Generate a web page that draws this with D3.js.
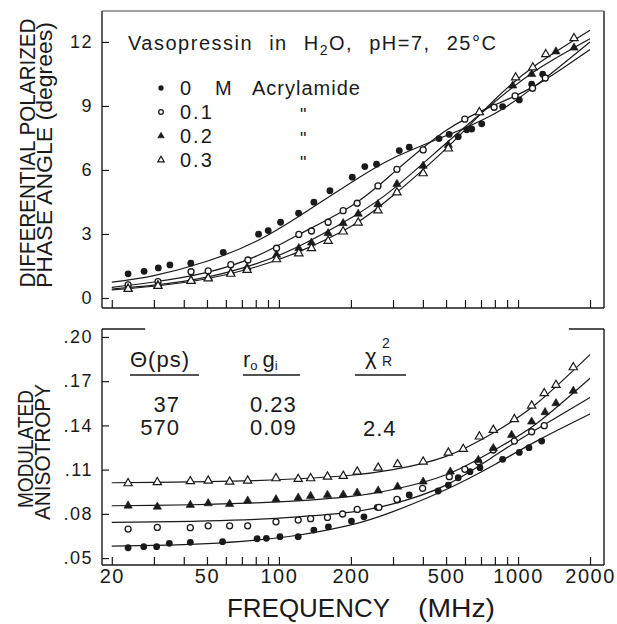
<!DOCTYPE html>
<html>
<head>
<meta charset="utf-8">
<script src="https://cdn.jsdelivr.net/npm/d3@7"></script>
<style>
body { margin: 0; background: #fff; }
svg text { font-family: "Liberation Sans", Arial, sans-serif; fill: #1a1a1a; }
</style>
</head>
<body>
<svg id="chart"></svg>
<script>
// acrylamide concentrations (M) and their markers
const concLabels = ["0", "0.1", "0.2", "0.3"];
const concSymbols = ["dot", "circle", "tri", "otri"];

// top panel: differential polarized phase angle (degrees)
const phaseF0 = [23.4, 27.3, 31.3, 35, 42.8, 58.5, 82.2, 90.2, 101.6, 120.8, 140, 163.4, 202.6, 228.6, 256, 318.5, 350.7, 467, 515, 562, 610, 640, 705, 862, 1012, 1140, 1268];
const phaseV0 = [1.13, 1.25, 1.41, 1.55, 1.63, 2.14, 2.99, 3.16, 3.55, 3.97, 4.49, 5.03, 5.66, 6.16, 6.27, 6.91, 7.07, 7.47, 7.67, 7.56, 7.88, 7.92, 8.16, 8.97, 9.28, 10.02, 10.49];
const phaseF1 = [23.4, 31.2, 42.9, 50.6, 62.9, 74.2, 97.7, 121.1, 136.8, 160.6, 185.6, 212.4, 259.5, 311.5, 401, 599, 794, 972, 1150, 1300];
const phaseV1 = [0.61, 0.77, 1.23, 1.27, 1.56, 1.78, 2.33, 2.98, 3.14, 3.55, 4.09, 4.44, 5.25, 6.03, 6.94, 8.38, 8.94, 9.47, 9.83, 10.31];
const phaseF2 = [23.4, 31.2, 42.9, 50.6, 62.9, 73.6, 97.7, 121.1, 136.8, 160.6, 185.6, 214.5, 259.5, 311.5, 401, 511, 689, 950, 1140, 1440, 1714];
const phaseV2 = [0.45, 0.61, 0.84, 0.95, 1.19, 1.42, 2.02, 2.33, 2.59, 3.03, 3.5, 3.94, 4.39, 5.34, 6.19, 7.17, 8.7, 9.95, 10.49, 11.55, 11.73];
const phaseF3 = [23.4, 31.2, 42.9, 50.6, 62.9, 73.6, 97.7, 121.1, 136.8, 160.6, 185.6, 214.5, 259.5, 311.5, 401, 511, 689, 977, 1153, 1306, 1714];
const phaseV3 = [0.42, 0.56, 0.8, 0.91, 1.13, 1.31, 1.81, 2.09, 2.33, 2.67, 3.11, 3.53, 4.1, 4.94, 5.84, 7.0, 8.7, 10.33, 10.8, 11.42, 12.17];

// fitted curves, read at these frequencies
const fitFreq = [20, 30, 50, 80, 120, 200, 300, 500, 800, 1200, 2000];
const phaseFit0 = [0.74, 1.05, 1.72, 2.65, 3.8, 5.4, 6.55, 7.6, 8.65, 10.0, 12.0];
const phaseFit1 = [0.5, 0.75, 1.2, 1.95, 2.95, 4.3, 5.85, 7.85, 9.05, 10.0, 11.65];
const phaseFit2 = [0.42, 0.6, 0.98, 1.6, 2.4, 3.75, 5.1, 7.25, 9.2, 10.7, 12.15];
const phaseFit3 = [0.38, 0.55, 0.9, 1.45, 2.15, 3.35, 4.8, 7.0, 9.3, 10.95, 12.55];

// bottom panel: modulated anisotropy
const anisoF0 = [23.4, 27.2, 30.8, 34.8, 42.6, 58.1, 81, 88.6, 101, 120.4, 140, 161, 201, 226.7, 257.8, 313.5, 350.7, 463.6, 511, 562, 629.5, 693, 862, 1012, 1111, 1256];
const anisoV0 = [0.057, 0.0577, 0.0577, 0.06, 0.0607, 0.0611, 0.0631, 0.0634, 0.0645, 0.0645, 0.069, 0.0712, 0.0751, 0.078, 0.0844, 0.0894, 0.0928, 0.0955, 0.0995, 0.1045, 0.1086, 0.1113, 0.117, 0.1217, 0.1249, 0.1294];
const anisoF1 = [23.4, 31, 42.6, 50.6, 62.2, 74, 97.2, 120.4, 135.7, 159.6, 184.6, 212.5, 262, 311.5, 399, 516, 599, 682, 788, 965, 1140, 1287];
const anisoV1 = [0.0697, 0.0708, 0.0706, 0.0719, 0.0719, 0.0719, 0.0746, 0.0758, 0.0767, 0.0776, 0.0799, 0.083, 0.0844, 0.0898, 0.0973, 0.1052, 0.1102, 0.1154, 0.1233, 0.1294, 0.1357, 0.1398];
const anisoF2 = [23.4, 31, 42.6, 50.6, 62.2, 74, 97.2, 120.4, 135.7, 159.6, 185.8, 212.5, 260, 313.5, 401, 521, 682, 788, 940, 1140, 1297, 1441, 1702];
const anisoV2 = [0.0855, 0.0848, 0.086, 0.0871, 0.0867, 0.0889, 0.0898, 0.0909, 0.0921, 0.0928, 0.093, 0.0943, 0.0957, 0.0984, 0.1018, 0.1086, 0.1165, 0.1245, 0.1335, 0.1425, 0.1489, 0.155, 0.1634];
const anisoF3 = [23.4, 31, 42.6, 50.6, 62.2, 74, 97.2, 120.4, 135.7, 159.6, 185.8, 212.5, 260, 313.5, 401, 511, 590, 689, 788, 965, 1140, 1287, 1441, 1702];
const anisoV3 = [0.1007, 0.1014, 0.1021, 0.1025, 0.1018, 0.1025, 0.1041, 0.1036, 0.1041, 0.1052, 0.1057, 0.1086, 0.1113, 0.1136, 0.1154, 0.1215, 0.124, 0.1324, 0.1369, 0.1442, 0.1534, 0.1618, 0.1674, 0.1794];

const anisoFit0 = [0.0581, 0.0586, 0.0598, 0.0622, 0.0655, 0.0725, 0.0815, 0.0965, 0.1135, 0.1295, 0.1477];
const anisoFit1 = [0.0742, 0.0745, 0.0752, 0.0763, 0.078, 0.0812, 0.0868, 0.0995, 0.1195, 0.1375, 0.159];
const anisoFit2 = [0.0855, 0.0858, 0.0864, 0.0874, 0.0888, 0.0918, 0.0965, 0.1065, 0.1235, 0.1415, 0.172];
const anisoFit3 = [0.1011, 0.1013, 0.1018, 0.1026, 0.1038, 0.1062, 0.11, 0.119, 0.1355, 0.155, 0.188];

// fit parameters table
const thetaValues = ["37", "570"];
const gValues = ["0.23", "0.09"];
const chiValue = "2.4";

// ticks
const xTicks = [20, 30, 40, 50, 60, 70, 80, 90, 100, 200, 300, 400, 500, 600, 700, 800, 900, 1000, 2000];
const xTickLabels = [20, 50, 100, 200, 500, 1000, 2000];
const phaseTicks = [0, 3, 6, 9, 12];
const anisoTicks = [0.05, 0.08, 0.11, 0.14, 0.17, 0.20];

const INK = "#1a1a1a";

class FreqPanel {

    constructor( config, series ) {
        this.config = {
            parent: config.parent,
            left: config.left,
            right: config.right,
            top: config.top,
            bottom: config.bottom,
            ydomain: config.ydomain,
            yticks: config.yticks,
            yformat: config.yformat,
            xlabels: config.xlabels || false,
            topgap: config.topgap || null,
        }
        this.series = series;
        this.init();
    }

    init() {
        let self = this;
        const c = self.config;

        self.g = c.parent.append('g');

        self.xscale = d3.scaleLog()
            .domain( [18.2, 2288] )
            .range( [c.left, c.right] );

        self.yscale = d3.scaleLinear()
            .domain( c.ydomain )
            .range( [c.bottom, c.top] );

        self.xaxis = d3.axisBottom( self.xscale )
            .tickValues( xTicks )
            .tickSize( -8 )
            .tickPadding( 4 )
            .tickFormat( d => (c.xlabels && xTickLabels.includes(d)) ? d : "" );

        self.yaxis = d3.axisLeft( self.yscale )
            .tickValues( c.yticks )
            .tickSize( -7 )
            .tickPadding( 9 )
            .tickFormat( c.yformat );
    }

    render() {
        let self = this;
        const c = self.config;

        const line = d3.line()
            .x( d => self.xscale(d[0]) )
            .y( d => self.yscale(d[1]) )
            .curve( d3.curveNatural );

        self.series.forEach( s => {
            self.g.append('path')
                .attr('d', line( d3.zip(fitFreq, s.fit) ))
                .attr('fill', 'none')
                .attr('stroke', INK)
                .attr('stroke-width', 1.2);
        });

        self.series.forEach( s => {
            const pts = d3.zip(s.freq, s.val);
            pts.forEach( p => drawMarker( self.g, s.symbol, self.xscale(p[0]), self.yscale(p[1]), 1 ) );
        });

        const xg = self.g.append('g')
            .attr('transform', `translate(0, ${c.bottom})`)
            .call( self.xaxis );
        const yg = self.g.append('g')
            .attr('transform', `translate(${c.left}, 0)`)
            .call( self.yaxis );

        [xg, yg].forEach( g => {
            g.select('.domain').remove();
            g.selectAll('line').attr('stroke', INK).attr('stroke-width', 1.2);
            g.selectAll('text').attr('fill', '#262626').attr('font-family', '"Liberation Sans", Arial, sans-serif');
        });
        xg.selectAll('text').attr('font-size', 20).attr('letter-spacing', 1.5);
        yg.selectAll('text').attr('font-size', 18).attr('letter-spacing', 1.5);

        // frame
        const frame = self.g.append('g')
            .attr('stroke', INK)
            .attr('stroke-width', 1.4)
            .attr('fill', 'none');
        frame.append('line').attr('x1', c.left).attr('x2', c.left).attr('y1', c.top).attr('y2', c.bottom);
        frame.append('line').attr('x1', c.right).attr('x2', c.right).attr('y1', c.top).attr('y2', c.bottom);
        frame.append('line').attr('x1', c.left).attr('x2', c.right).attr('y1', c.bottom).attr('y2', c.bottom);
        if (c.topgap) {
            const w = c.right - c.left;
            frame.append('line').attr('x1', c.left).attr('x2', c.left + w * c.topgap[0]).attr('y1', c.top).attr('y2', c.top);
            frame.append('line').attr('x1', c.left + w * c.topgap[1]).attr('x2', c.right).attr('y1', c.top).attr('y2', c.top);
        } else {
            frame.append('line').attr('x1', c.left).attr('x2', c.right).attr('y1', c.top).attr('y2', c.top)
                .attr('stroke-width', 1).attr('stroke', '#444');
        }
    }
}

function drawMarker( g, kind, x, y, k ) {
    if (kind === 'dot') {
        g.append('circle').attr('cx', x).attr('cy', y).attr('r', 3.4 * k).attr('fill', INK);
    } else if (kind === 'circle') {
        g.append('circle').attr('cx', x).attr('cy', y).attr('r', 3.0 * k)
            .attr('fill', '#fff').attr('stroke', INK).attr('stroke-width', 1.3);
    } else {
        g.append('path')
            .attr('d', d3.symbol(d3.symbolTriangle, 30 * k * k)())
            .attr('transform', `translate(${x},${y})`)
            .attr('fill', kind === 'tri' ? INK : '#fff')
            .attr('stroke', INK)
            .attr('stroke-width', kind === 'tri' ? 0.6 : 1.2);
    }
}

const svg = d3.select('#chart')
    .attr('width', 617)
    .attr('height', 624);

const phaseSeries = [
    { freq: phaseF0, val: phaseV0, fit: phaseFit0, symbol: concSymbols[0] },
    { freq: phaseF1, val: phaseV1, fit: phaseFit1, symbol: concSymbols[1] },
    { freq: phaseF2, val: phaseV2, fit: phaseFit2, symbol: concSymbols[2] },
    { freq: phaseF3, val: phaseV3, fit: phaseFit3, symbol: concSymbols[3] },
];
const anisoSeries = [
    { freq: anisoF0, val: anisoV0, fit: anisoFit0, symbol: concSymbols[0] },
    { freq: anisoF1, val: anisoV1, fit: anisoFit1, symbol: concSymbols[1] },
    { freq: anisoF2, val: anisoV2, fit: anisoFit2, symbol: concSymbols[2] },
    { freq: anisoF3, val: anisoV3, fit: anisoFit3, symbol: concSymbols[3] },
];

const topPanel = new FreqPanel({
    parent: svg, left: 102, right: 604, top: 11, bottom: 308,
    ydomain: [-0.47, 13.45], yticks: phaseTicks, yformat: d => d,
}, phaseSeries);
topPanel.render();

const bottomPanel = new FreqPanel({
    parent: svg, left: 102, right: 604, top: 329, bottom: 565,
    ydomain: [0.0453, 0.2054], yticks: anisoTicks,
    yformat: d => d3.format('.2f')(d).replace(/^0/, ''),
    xlabels: true, topgap: [0.086, 0.93],
}, anisoSeries);
bottomPanel.render();

// title and legend (top panel)
const title = svg.append('text')
    .attr('x', 128).attr('y', 50)
    .attr('font-size', 20).attr('letter-spacing', 1.5).attr('word-spacing', 9);
title.append('tspan').text('Vasopressin in H');
title.append('tspan').attr('font-size', 14).attr('dy', 5).text('2');
title.append('tspan').attr('dy', -5).text('O, pH=7, 25°C');

const legend = svg.append('g');
concLabels.forEach( (lab, i) => {
    const yc = 88 + i * 24;
    drawMarker( legend, concSymbols[i], 161, yc, 0.78 );
    legend.append('text').attr('x', 180).attr('y', yc + 7)
        .attr('font-size', 20).attr('letter-spacing', 2).text(lab);
    if (i === 0) {
        legend.append('text').attr('x', 215).attr('y', yc + 7).attr('font-size', 20).text('M');
        legend.append('text').attr('x', 252).attr('y', yc + 7).attr('font-size', 20)
            .attr('letter-spacing', 1).text('Acrylamide');
    } else {
        legend.append('text').attr('x', 300).attr('y', yc + 9).attr('font-size', 18).text('"');
    }
});

// parameter table (bottom panel)
const table = svg.append('g').attr('font-size', 22);
const th = table.append('text').attr('x', 130).attr('y', 367).attr('letter-spacing', 1);
th.append('tspan').text('Θ(ps)');
const rg = table.append('text').attr('x', 243).attr('y', 367);
rg.append('tspan').text('r');
rg.append('tspan').attr('font-size', 13).attr('dy', 3).text('o');
rg.append('tspan').attr('dx', 5).attr('dy', -3).text('g');
rg.append('tspan').attr('font-size', 13).attr('dy', 3).text('i');
const chi = table.append('text').attr('x', 365).attr('y', 364);
chi.append('tspan').text('χ');
chi.append('tspan').attr('font-size', 14).attr('x', 382).attr('y', 348).text('2');
chi.append('tspan').attr('font-size', 14).attr('x', 382).attr('y', 366).text('R');
table.selectAll('text').attr('fill', INK);

[[130, 199], [243, 300], [355, 406]].forEach( u => {
    table.append('line').attr('x1', u[0]).attr('x2', u[1]).attr('y1', 375).attr('y2', 375)
        .attr('stroke', INK).attr('stroke-width', 1.3);
});
thetaValues.forEach( (v, i) => {
    table.append('text').attr('x', 180).attr('y', 412 + i * 23)
        .attr('text-anchor', 'end').attr('letter-spacing', 1).text(v);
});
gValues.forEach( (v, i) => {
    table.append('text').attr('x', 250).attr('y', 412 + i * 23)
        .attr('letter-spacing', 1).text(v);
});
table.append('text').attr('x', 363).attr('y', 436).attr('letter-spacing', 1).text(chiValue);

// axis titles
const labels = svg.append('g').attr('fill', INK);
function vlabel( txt, x, y, len ) {
    labels.append('text')
        .attr('transform', `translate(${x}, ${y}) rotate(-90)`)
        .attr('text-anchor', 'middle')
        .attr('font-size', 22)
        .attr('textLength', len)
        .attr('lengthAdjust', 'spacingAndGlyphs')
        .text(txt);
}
vlabel('DIFFERENTIAL POLARIZED', 35, 153, 269);
vlabel('PHASE ANGLE (degrees)', 52, 155, 266);
vlabel('MODULATED', 33, 449, 118);
vlabel('ANISOTROPY', 50, 452, 136);

labels.append('text').attr('x', 227).attr('y', 617).attr('font-size', 26)
    .attr('textLength', 163).attr('lengthAdjust', 'spacingAndGlyphs').text('FREQUENCY');
labels.append('text').attr('x', 418).attr('y', 617).attr('font-size', 26)
    .attr('textLength', 77).attr('lengthAdjust', 'spacingAndGlyphs').text('(MHz)');
</script>
</body>
</html>
